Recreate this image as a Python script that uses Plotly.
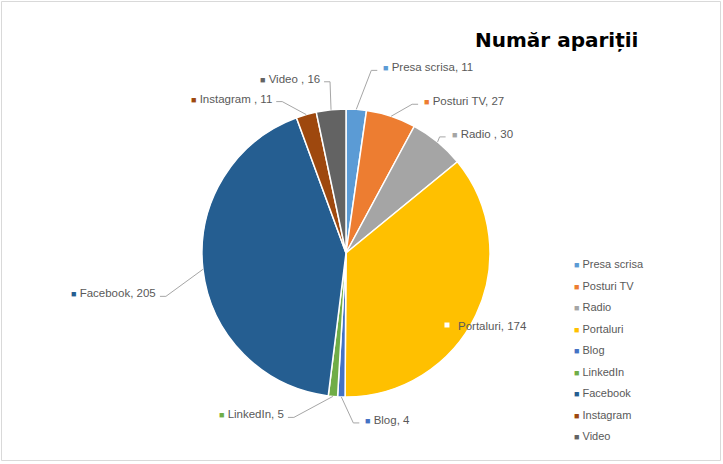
import numpy as np
import plotly.graph_objects as go

# ---- data ----
labels = ["Presa scrisa", "Posturi TV", "Radio", "Portaluri", "Blog",
          "LinkedIn", "Facebook", "Instagram", "Video"]
values = [11, 27, 30, 174, 4, 5, 205, 11, 16]
label_texts = ["Presa scrisa, 11", "Posturi TV, 27", "Radio , 30", "Portaluri, 174",
               "Blog, 4", "LinkedIn, 5", "Facebook, 205", "Instagram , 11", "Video , 16"]
colors = ["#5B9BD5", "#ED7D31", "#A5A5A5", "#FFC000", "#4472C4",
          "#70AD47", "#255E91", "#9E480E", "#636363"]
title_text = "Număr apariții"

# ---- layout constants (pixels, origin top-left) ----
W, H = 723, 464
CX, CY, R = 346, 253, 144
FONT = "Liberation Sans"
TXT = "#595959"

# per-label placement: offset of leader end from slice edge, side, leader shown
label_layout = {
    "Presa scrisa": (21, -39, 1, True),
    "Posturi TV": (27, -12, 1, True),
    "Radio": (8, -5, 1, True),
    "Portaluri": (-33, 10, 1, False),
    "Blog": (18, 26, 1, True),
    "LinkedIn": (-45, 21, -1, True),
    "Facebook": (-43, 27, -1, True),
    "Instagram": (-30, -13, -1, True),
    "Video": (-7, -28, -1, True),
}


def px(x):
    return x / W


def py(y):
    return 1 - y / H


vals = np.array(values, dtype=float)
total = vals.sum()
mids = (np.cumsum(vals) - vals / 2) / total * 2 * np.pi

fig = go.Figure(go.Pie(
    labels=labels, values=values, sort=False, direction="clockwise", rotation=0,
    marker=dict(colors=colors, line=dict(color="white", width=1.5)),
    textinfo="none", showlegend=False,
    domain=dict(x=[px(CX - R), px(CX + R)], y=[py(CY + R), py(CY - R)]),
))

shapes = [dict(type="rect", xref="paper", yref="paper", x0=px(1.5), x1=px(720.5),
               y0=py(460.5), y1=py(1.5), line=dict(color="#D9D9D9", width=1))]
annotations = [dict(text="<b>" + title_text + "</b>", x=px(556), y=py(40), xref="paper",
                    yref="paper", showarrow=False, xanchor="center", yanchor="middle",
                    font=dict(family="DejaVu Sans", size=20, color="#000000"))]

SQ = '<span style="font-size:9px;color:{}">■</span> '

for lab, txt, col, th in zip(labels, label_texts, colors, mids):
    dx, dy, side, leader = label_layout[lab]
    ex = CX + R * np.sin(th)
    ey = CY - R * np.cos(th)
    tx, ty = ex + dx, ey + dy
    if leader:
        elx = tx - side * 6
        shapes.append(dict(type="path", xref="paper", yref="paper",
                           path=f"M {px(ex)},{py(ey)} L {px(elx)},{py(ty)} L {px(tx)},{py(ty)}",
                           line=dict(color="#A6A6A6", width=1)))
        if side > 0:
            annotations.append(dict(text=SQ.format(col) + txt, x=px(tx + 4), y=py(ty - 3),
                                    xref="paper", yref="paper", showarrow=False,
                                    xanchor="left", yanchor="middle",
                                    font=dict(family=FONT, size=11.5, color=TXT)))
        else:
            annotations.append(dict(text=SQ.format(col) + txt, x=px(tx - 2), y=py(ty - 3),
                                    xref="paper", yref="paper", showarrow=False,
                                    xanchor="right", yanchor="middle",
                                    font=dict(family=FONT, size=11.5, color=TXT)))
    else:
        bx, by = tx + 4, ty
        shapes.append(dict(type="rect", xref="paper", yref="paper",
                           x0=px(bx - 3.5), x1=px(bx + 3.5), y0=py(by + 3.5), y1=py(by - 3.5),
                           fillcolor="white", line=dict(color=col, width=2)))
        annotations.append(dict(text=txt, x=px(tx + 13), y=py(ty + 1), xref="paper",
                                yref="paper", showarrow=False, xanchor="left",
                                yanchor="middle", font=dict(family=FONT, size=11.5, color=TXT)))

# legend built from the category list
LEG_X, LEG_Y0, LEG_DY = 572, 264, 21.5
for i, (lab, col) in enumerate(zip(labels, colors)):
    annotations.append(dict(
        text=SQ.format(col) + lab,
        x=px(LEG_X), y=py(LEG_Y0 + i * LEG_DY), xref="paper", yref="paper",
        showarrow=False, xanchor="left", yanchor="middle",
        font=dict(family=FONT, size=11, color=TXT)))

fig.update_layout(width=W, height=H, margin=dict(l=0, r=0, t=0, b=0),
                  paper_bgcolor="white", plot_bgcolor="white",
                  shapes=shapes, annotations=annotations, showlegend=False)

fig.write_html("out.html", config={"displayModeBar": False},
               post_script="document.body.style.margin='0';document.body.style.padding='0';")
